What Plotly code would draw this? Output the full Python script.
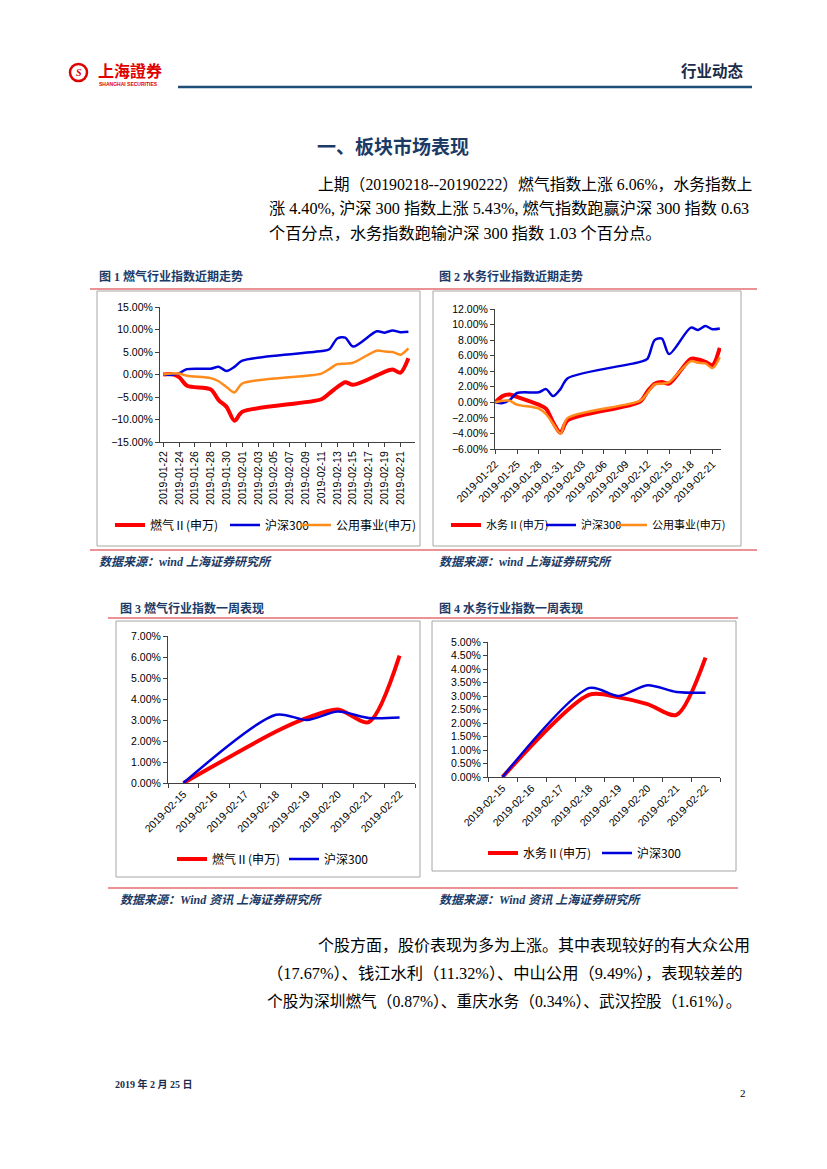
import plotly.graph_objects as go

W, H = 827, 1169

# ---------------- data ----------------
trade_days = ["2019-01-22", "2019-01-23", "2019-01-24", "2019-01-25", "2019-01-28",
              "2019-01-29", "2019-01-30", "2019-01-31", "2019-02-01", "2019-02-11",
              "2019-02-12", "2019-02-13", "2019-02-14", "2019-02-15", "2019-02-18",
              "2019-02-19", "2019-02-20", "2019-02-21", "2019-02-22"]
gas = [0.0, 0.1, -0.6, -2.5, -3.3, -5.7, -7.2, -10.3, -8.3, -5.5,
       -4.2, -2.8, -1.7, -2.3, -0.2, 0.6, 1.1, 0.4, 3.6]
water = [0.0, 0.8, 1.0, 0.7, -0.3, -0.8, -2.6, -3.9, -2.3, 0.1,
         1.4, 2.4, 2.6, 2.4, 5.6, 5.5, 5.2, 4.8, 7.0]
hs300 = [0.0, -0.1, 0.3, 1.2, 1.3, 1.7, 0.8, 1.7, 3.1, 5.2,
         5.6, 8.0, 8.2, 6.2, 9.6, 9.3, 9.8, 9.4, 9.5]
utility = [0.0, 0.2, 0.2, -0.3, -0.8, -1.5, -2.8, -4.0, -2.0, 0.2,
           1.2, 2.3, 2.4, 2.6, 5.3, 5.1, 5.0, 4.4, 5.8]

week_days = ["2019-02-15", "2019-02-16", "2019-02-17", "2019-02-18",
             "2019-02-19", "2019-02-20", "2019-02-21", "2019-02-22"]
gas_week = [0.0, None, None, 2.45, 3.1, 3.5, 2.9, 6.06]
hs300_week_a = [0.0, None, None, 3.25, 3.0, 3.4, 3.1, 3.12]
water_week = [0.0, None, None, 3.05, 2.95, 2.7, 2.3, 4.42]
hs300_week_b = [0.0, None, None, 3.3, 3.0, 3.4, 3.15, 3.12]

name_gas = "燃气Ⅱ(申万)"
name_water = "水务Ⅱ(申万)"
name_hs = "沪深300"
name_ut = "公用事业(申万)"

RED = "#FF0000"
BLUE = "#0000DD"
ORANGE = "#FF8C1A"
NAVY = "#1B3A66"
CAPRED = "#D9272E"

def px(x):
    return x / W

def py(y):
    return 1 - y / H

fig = go.Figure()

def line_trace(x, y, name, color, width, xa, ya, leg):
    return go.Scatter(x=x, y=y, name=name, mode="lines", connectgaps=True,
                      line=dict(color=color, width=width, shape="spline", smoothing=0.8),
                      xaxis=xa, yaxis=ya, legend=leg)

# chart 1
fig.add_trace(line_trace(trade_days, gas, name_gas, RED, 4, "x", "y", "legend"))
fig.add_trace(line_trace(trade_days, hs300, name_hs, BLUE, 2.5, "x", "y", "legend2"))
fig.add_trace(line_trace(trade_days, utility, name_ut, ORANGE, 2.5, "x", "y", "legend3"))
# chart 2
fig.add_trace(line_trace(trade_days, water, name_water, RED, 4, "x2", "y2", "legend4"))
fig.add_trace(line_trace(trade_days, hs300, name_hs, BLUE, 2.5, "x2", "y2", "legend5"))
fig.add_trace(line_trace(trade_days, utility, name_ut, ORANGE, 2.5, "x2", "y2", "legend6"))
# chart 3
fig.add_trace(line_trace(week_days, gas_week, name_gas, RED, 4, "x3", "y3", "legend7"))
fig.add_trace(line_trace(week_days, hs300_week_a, name_hs, BLUE, 2.5, "x3", "y3", "legend8"))
# chart 4
fig.add_trace(line_trace(week_days, water_week, name_water, RED, 4, "x4", "y4", "legend9"))
fig.add_trace(line_trace(week_days, hs300_week_b, name_hs, BLUE, 2.5, "x4", "y4", "legend10"))

tickfont = dict(family="Liberation Sans, Arial, sans-serif", size=10.5, color="#000")
axis_common = dict(showgrid=False, zeroline=False, showline=True, linecolor="#404040",
                   linewidth=1, ticks="outside", ticklen=4, tickcolor="#404040",
                   tickfont=tickfont, automargin=False)

DAY = 86400000
fig.update_layout(
    xaxis=dict(domain=[px(160), px(415)], anchor="y", type="date",
               range=["2019-01-21 14:00", "2019-02-22 20:00"],
               tick0="2019-01-22", dtick=2 * DAY, tickformat="%Y-%m-%d",
               tickangle=-90, **axis_common),
    yaxis=dict(domain=[py(442), py(307)], anchor="x", range=[-15, 15], dtick=5,
               tickformat=".2f", ticksuffix="%", **axis_common),
    xaxis2=dict(domain=[px(495), px(721)], anchor="y2", type="date",
                range=["2019-01-21 23:00", "2019-02-22 04:00"],
                tick0="2019-01-22", dtick=3 * DAY, tickformat="%Y-%m-%d",
                tickangle=-45, **axis_common),
    yaxis2=dict(domain=[py(449), py(309)], anchor="x2", range=[-6, 12], dtick=2,
                tickformat=".2f", ticksuffix="%", **axis_common),
    xaxis3=dict(domain=[px(168), px(415)], anchor="y3", type="category",
                categoryorder="array", categoryarray=week_days, range=[-0.5, 7.5],
                tickson="boundaries", tickangle=-45, **axis_common),
    yaxis3=dict(domain=[py(783), py(636)], anchor="x3", range=[0, 7], dtick=1,
                tickformat=".2f", ticksuffix="%", **axis_common),
    xaxis4=dict(domain=[px(488), px(720)], anchor="y4", type="category",
                categoryorder="array", categoryarray=week_days, range=[-0.5, 7.5],
                tickson="boundaries", tickangle=-45, **axis_common),
    yaxis4=dict(domain=[py(777), py(642)], anchor="x4", range=[0, 5], dtick=0.5,
                tickformat=".2f", ticksuffix="%", **axis_common),
)

def leg(text_x, y, size):
    return dict(orientation="h", x=px(text_x - 40), y=py(y), xanchor="left", yanchor="middle",
                xref="container", yref="container",
                font=dict(family="Noto Sans CJK SC, Liberation Sans, sans-serif", size=size, color="#000"),
                bgcolor="rgba(0,0,0,0)", borderwidth=0, itemwidth=30)

fig.update_layout(
    legend=leg(150, 525, 12), legend2=leg(265, 525, 12), legend3=leg(336, 525, 12),
    legend4=leg(486, 525, 11), legend5=leg(581, 525, 11), legend6=leg(652, 525, 11),
    legend7=leg(212, 859, 12), legend8=leg(324, 859, 12),
    legend9=leg(523, 853, 12), legend10=leg(637, 853, 12),
)

shapes = []
# chart frames
for (x0, y0, x1, y1) in [(97, 291, 420, 546), (433, 291, 741, 546),
                         (116, 621, 420, 877), (432, 621, 736, 871)]:
    shapes.append(dict(type="rect", xref="paper", yref="paper", x0=px(x0), x1=px(x1),
                       y0=py(y1), y1=py(y0), line=dict(color="#A6A6A6", width=1)))
# red separator lines
for (x0, x1, y) in [(90, 757, 289), (90, 757, 550), (108, 738, 618), (108, 738, 888)]:
    shapes.append(dict(type="line", xref="paper", yref="paper", x0=px(x0), x1=px(x1),
                       y0=py(y), y1=py(y), line=dict(color=CAPRED, width=1.2)))
# header rule
shapes.append(dict(type="line", xref="paper", yref="paper", x0=px(178), x1=px(752),
                   y0=py(87), y1=py(87), line=dict(color="#1F4E79", width=2.5)))
# logo circle
shapes.append(dict(type="circle", xref="paper", yref="paper", x0=px(70), x1=px(87),
                   y0=py(81), y1=py(64), line=dict(color="#E00000", width=2.5)))
fig.update_layout(shapes=shapes)

def ann(text, x, y, size, color="#000", family="Liberation Serif, Noto Sans CJK SC, serif",
        xanchor="left", bold=False, italic=False):
    t = text
    if bold:
        t = "<b>" + t + "</b>"
    if italic:
        t = "<i>" + t + "</i>"
    fig.add_annotation(text=t, x=px(x), y=py(y), xref="paper", yref="paper",
                       xanchor=xanchor, yanchor="middle", showarrow=False,
                       font=dict(size=size, color=color, family=family))

# header
ann("上海證券", 96, 70, 16, color="#E00000", family="Noto Sans CJK TC, Noto Sans CJK SC", bold=True)
ann("SHANGHAI SECURITIES", 97, 84, 5, color="#E00000", family="Liberation Sans", bold=True)
ann("S", 78.5, 72.5, 10, color="#E00000", family="Liberation Serif", xanchor="center",
    bold=True, italic=True)
ann("行业动态", 746, 70, 15.5, color="#1B2B4A", family="Noto Sans CJK SC", xanchor="right", bold=True)

# title
ann("一、板块市场表现", 393, 145, 19, color=NAVY, family="Noto Sans CJK SC", xanchor="center", bold=True)

body = "Liberation Serif, Noto Sans CJK SC, serif"
ann("上期（20190218--20190222）燃气指数上涨 6.06%，水务指数上", 316, 184, 15.8, family=body)
ann("涨 4.40%, 沪深 300 指数上涨 5.43%, 燃气指数跑赢沪深 300 指数 0.63", 267, 209, 16.2, family=body)
ann("个百分点，水务指数跑输沪深 300 指数 1.03 个百分点。", 267, 234, 16.2, family=body)

cap = "Liberation Serif, Noto Sans CJK SC, serif"
ann("图 1 燃气行业指数近期走势", 97, 277, 12, color=NAVY, family=cap, bold=True)
ann("图 2 水务行业指数近期走势", 437, 277, 12, color=NAVY, family=cap, bold=True)
ann("数据来源：wind 上海证券研究所", 97, 562, 12, color=NAVY, family=cap, bold=True, italic=True)
ann("数据来源：wind 上海证券研究所", 437, 562, 12, color=NAVY, family=cap, bold=True, italic=True)
ann("图 3 燃气行业指数一周表现", 118, 608, 12, color=NAVY, family=cap, bold=True)
ann("图 4 水务行业指数一周表现", 437, 608, 12, color=NAVY, family=cap, bold=True)
ann("数据来源：Wind 资讯 上海证券研究所", 118, 900, 12, color=NAVY, family=cap, bold=True, italic=True)
ann("数据来源：Wind 资讯 上海证券研究所", 437, 900, 12, color=NAVY, family=cap, bold=True, italic=True)

ann("个股方面，股价表现为多为上涨。其中表现较好的有大众公用", 316, 945, 16.0, family=body)
ann("（17.67%）、钱江水利（11.32%）、中山公用（9.49%），表现较差的", 265, 973, 16.3, family=body)
ann("个股为深圳燃气（0.87%）、重庆水务（0.34%）、武汉控股（1.61%）。", 265, 1001, 15.7, family=body)

ann("2019 年 2 月 25 日", 113, 1084, 10, color="#1B2B4A", family=cap, bold=True)
ann("2", 748, 1093, 11, family=body, xanchor="right")

fig.update_layout(width=W, height=H, margin=dict(l=0, r=0, t=0, b=0, autoexpand=False),
                  paper_bgcolor="white", plot_bgcolor="rgba(0,0,0,0)", showlegend=True)

fig.write_html("out.html", config={"displayModeBar": False},
               post_script="document.body.style.margin='0px';document.body.style.padding='0px';")
